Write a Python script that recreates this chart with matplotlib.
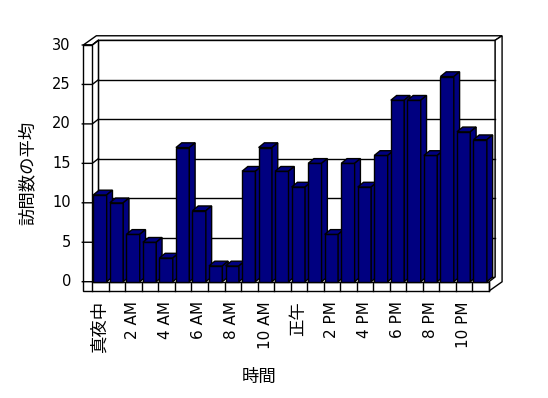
import matplotlib
matplotlib.use('Agg')
import matplotlib.pyplot as plt
from matplotlib.patches import Polygon

# DejaVu for latin/digits, Noto CJK for the Japanese glyphs
plt.rcParams['font.family'] = ['DejaVu Sans', 'Noto Sans CJK JP']

# average visits per hour, midnight .. 11 PM
hours = list(range(24))
visits = [11, 10, 6, 5, 3, 17, 9, 2, 2, 14, 17, 14,
          12, 15, 6, 15, 12, 16, 23, 23, 16, 26, 19, 18]
hour_labels = ['真夜中', '2 AM', '4 AM', '6 AM', '8 AM', '10 AM',
               '正午', '2 PM', '4 PM', '6 PM', '8 PM', '10 PM']
yticks = [0, 5, 10, 15, 20, 25, 30]
ymax = 30

BAR = '#000080'

W, H = 548, 398
fig = plt.figure(figsize=(W / 100, H / 100), dpi=100)

# front plane: x=0 at px 92.3, 16.53 px per hour; y=0 at px 281.7, 7.89 px per visit
px0, pxs = 92.3, 16.53
py0, pys = 281.7, 7.89
xlim = (-1, 25)
ylim = (-2, 32)
left = px0 + pxs * xlim[0]
right = px0 + pxs * xlim[1]
bottom = py0 - pys * ylim[0]
top = py0 - pys * ylim[1]
ax = fig.add_axes([left / W, 1 - bottom / H, (right - left) / W, (bottom - top) / H])
ax.set_xlim(*xlim)
ax.set_ylim(*ylim)
ax.axis('off')

n = len(hours)
wall = -0.545          # outer edge of left wall
floor = -1.18          # bottom of floor slab
dx, dy = 0.37, 0.6     # depth from front plane to back wall
tx, ty = 0.42, 0.57    # thickness of back wall

def poly(pts, z, fc='white'):
    ax.add_patch(Polygon(pts, closed=True, facecolor=fc, edgecolor='black',
                         linewidth=1, zorder=z, clip_on=False))

# back wall
poly([(dx, dy), (n + dx, dy), (n + dx, ymax + dy), (dx, ymax + dy)], 1)
for v in yticks[1:-1]:
    ax.plot([dx, n + dx], [v + dy, v + dy], color='black', lw=1, zorder=1.5)
# top edge of walls
poly([(wall, ymax), (wall + dx + tx, ymax + dy + ty), (n + dx + tx, ymax + dy + ty),
      (n + dx, ymax + dy), (dx, ymax + dy), (0, ymax)], 1)
# right edge of back wall and floor
poly([(n, floor), (n + dx + tx, floor + dy + ty), (n + dx + tx, ymax + dy + ty),
      (n + dx, ymax + dy), (n + dx, dy), (n, 0)], 1)
# inner face of left wall
poly([(0, 0), (dx, dy), (dx, ymax + dy), (0, ymax)], 1)
# front of left wall and floor
poly([(wall, floor), (n, floor), (n, 0), (0, 0), (0, ymax), (wall, ymax)], 1)
for x in range(n + 1):
    ax.plot([x, x], [floor, 0], color='black', lw=1, zorder=1.5)

# value ticks on the left wall
for v in yticks:
    ax.plot([wall - 0.06, 0, dx], [v, v, v + dy], color='black', lw=1, zorder=1.5)
    ax.text(wall - 0.75, v, str(v), ha='right', va='center', fontsize=10.5)

# bars: front faces through ax.bar, top and side faces from the same values
bx, by = 0.35, 0.6
bars = ax.bar([h + 0.06 for h in hours], visits, width=0.81, align='edge',
              color=BAR, edgecolor='black', linewidth=1)
for i, (b, v) in enumerate(zip(bars, visits)):
    b.set_zorder(3 + 2 * i)
    l, r = b.get_x(), b.get_x() + b.get_width()
    poly([(l, v), (r, v), (r + bx, v + by), (l + bx, v + by)], 4 + 2 * i, BAR)
    poly([(r, 0), (r, v), (r + bx, v + by), (r + bx, by)], 4 + 2 * i, BAR)

# hour labels every two hours (the kanji ones drawn a bit larger, like the original)
for k, lab in enumerate(hour_labels):
    fs = 11 if lab.isascii() else 12.5
    ax.text(2 * k + 0.45, floor - 1.3, lab, rotation=90, ha='center', va='top',
            fontsize=fs)

fig.text(259 / W, 1 - 377 / H, '時間', ha='center', va='center', fontsize=12.5)
fig.text(28 / W, 1 - 173 / H, '訪問数の平均', ha='center', va='center',
         rotation=90, fontsize=12.5)

fig.savefig('out.png', dpi=100, facecolor='white')
